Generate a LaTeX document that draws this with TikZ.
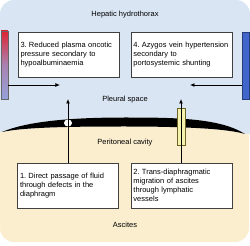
\documentclass[tikz,border=0pt]{standalone}
\usepackage{fontspec}
\setmainfont{Liberation Sans}
\usetikzlibrary{arrows.meta,positioning,calc,shapes.geometric}
\definecolor{pleura}{RGB}{218,229,243}
\definecolor{perit}{RGB}{251,238,207}
\definecolor{barred}{RGB}{224,36,50}
\definecolor{barlav}{RGB}{150,162,218}
\definecolor{barblue}{RGB}{64,102,204}
\definecolor{tube}{RGB}{244,242,172}
\definecolor{tubeline}{RGB}{110,100,40}
\tikzset{
  box/.style={draw=black!75,fill=white,line width=0.8pt,minimum width=101pt,minimum height=45pt,text width=96pt,inner xsep=2.5pt,align=left,font=\fontsize{7.5}{9}\selectfont},
  region/.style={font=\fontsize{7.5}{9}\selectfont,inner sep=1pt},
  bar/.style={draw=black!60,line width=0.5pt,minimum width=7pt,inner sep=0pt},
  arr/.style={-{Latex[length=4.5pt,width=4pt]},line width=0.9pt}
}
\newcommand{\hanglab}[2]{\hyphenpenalty=10000 \hangindent=8.5pt\hangafter=1\makebox[8.5pt][l]{#1.}#2}

\begin{document}
\begin{tikzpicture}[x=1pt,y=-1pt]
\useasboundingbox (0,0) rectangle (250,246);
\begin{scope}
  \clip (0,0) -- (250,0) -- (250,134) -- (245,134) .. controls (220,118) and (175,117.5) .. (125,117.5)
    .. controls (80,117.5) and (30,120) .. (2,132) -- (0,132) -- cycle;
  \fill[pleura,rounded corners=14pt] (0,0) rectangle (250,150);
\end{scope}
\begin{scope}
  \clip (0,132) -- (2,132) .. controls (25,127) and (75,126.5) .. (125,126.5)
    .. controls (175,126.5) and (225,128) .. (245,134) -- (250,134) -- (250,246) -- (0,246) -- cycle;
  \fill[perit,rounded corners=14pt] (0,100) rectangle (249,242);
\end{scope}
\fill[black] (2,132) .. controls (30,120) and (80,117.5) .. (125,117.5) .. controls (175,117.5) and (220,118) .. (245,134)
  .. controls (225,128) and (175,126.5) .. (125,126.5) .. controls (75,126.5) and (25,127) .. (2,132) -- cycle;

\node[region] (hh) at (125,15) {Hepatic hydrothorax};
\node[region] (ps) at (125,100) {Pleural space};
\node[region] (pc) at (125,143) {Peritoneal cavity};
\node[region] (asc) at (125,225) {Ascites};

\foreach \i/\x/\y/\txt in {
{3}/{68.5}/{54.5}/{Reduced plasma oncotic\\pressure secondary to\\hypoalbuminaemia},
{4}/{181.5}/{54.5}/{Azygos vein hypertension\\secondary to\\portosystemic shunting},
{1}/{68}/{186}/{Direct passage of fluid\\through defects in the\\diaphragm},
{2}/{181.5}/{185.5}/{Trans-diaphragmatic\\migration of ascites\\through lymphatic\\vessels}}{
  \node[box] (box\i) at (\x,\y) {\hanglab{\i}{\txt}};
}

\node[bar,minimum height=68pt,top color=barred,bottom color=barlav,middle color=barlav!75!barred] (lbar) at (4.5,65) {};
\node[bar,minimum height=67pt,fill=barblue,draw=barblue!60!black] (rbar) at (245.5,65.5) {};
\coordinate (l3) at (60,85);
\coordinate (r4) at (190,85);
\draw[arr] (lbar.east |- l3) -- (l3);
\draw[arr] (rbar.west |- r4) -- (r4);

\node[ellipse,fill=white,minimum width=8pt,minimum height=7pt,inner sep=0pt] (pore) at (68,123) {};
\node[draw=tubeline,fill=tube,line width=0.7pt,minimum width=8pt,minimum height=37pt,inner sep=0pt] (lymph) at (181,126.5) {};
\coordinate (t1) at (68,99);
\coordinate (t2) at (181,99);
\draw[arr] (box1.north) -- (t1);
\draw[arr] (box2.north -| lymph) -- (t2);
\end{tikzpicture}
\end{document}
